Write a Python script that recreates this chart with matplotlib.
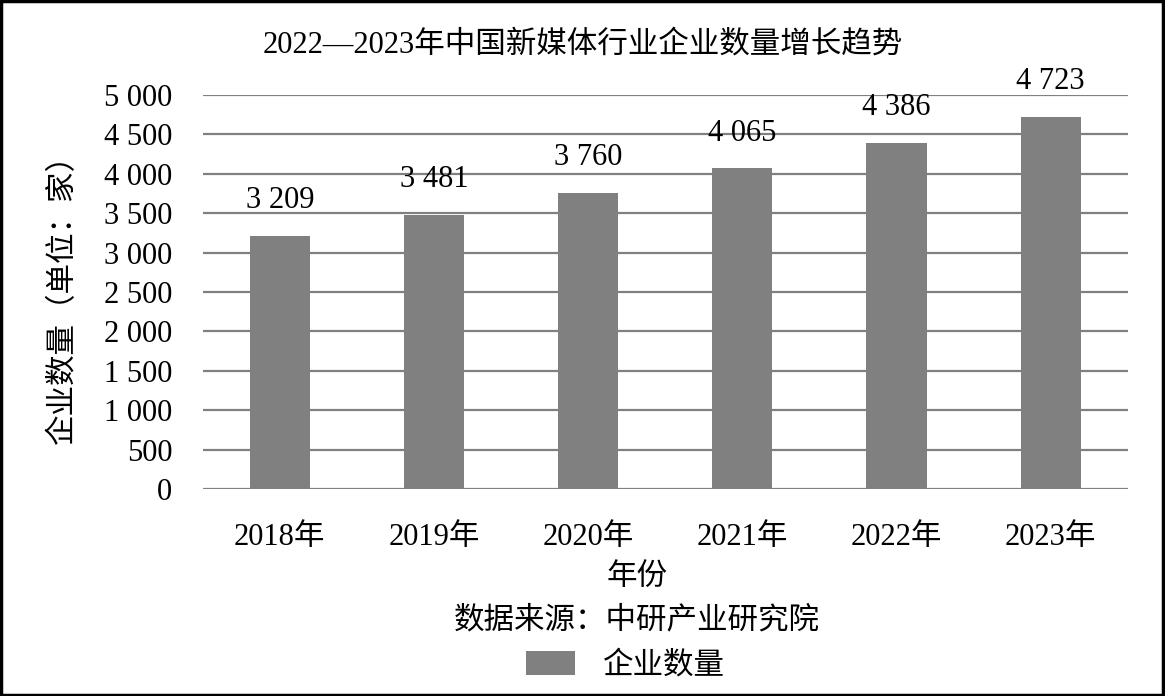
import matplotlib
matplotlib.use('Agg')
import matplotlib.pyplot as plt
from matplotlib.patches import Rectangle
from matplotlib.ticker import FuncFormatter

# 数据
years = ['2018年', '2019年', '2020年', '2021年', '2022年', '2023年']
counts = [3209, 3481, 3760, 4065, 4386, 4723]
yticks = [0, 500, 1000, 1500, 2000, 2500, 3000, 3500, 4000, 4500, 5000]

plt.rcParams['font.family'] = ['Liberation Serif', 'Noto Sans CJK SC']
plt.rcParams['font.size'] = 22


def fmt(v, pos=None):
    return '{:,}'.format(int(v)).replace(',', ' ')


fig = plt.figure(figsize=(11.65, 6.96), dpi=100)
ax = fig.add_axes([0.174, 0.297, 0.794, 0.567])

x = range(len(years))
bars = ax.bar(x, counts, width=0.39, color='#808080', label='企业数量', zorder=3)

for xi, v in zip(x, counts):
    ax.annotate(fmt(v), (xi, v), xytext=(0, 15), textcoords='offset points',
                ha='center', va='bottom', fontsize=22)

ax.set_ylim(0, 5000)
ax.set_xlim(-0.5, len(years) - 0.5)
ax.set_yticks(yticks)
ax.yaxis.set_major_formatter(FuncFormatter(fmt))
ax.set_xticks(list(x))
ax.set_xticklabels(years)
ax.tick_params(axis='both', length=0, labelsize=22)
ax.tick_params(axis='x', pad=24)
ax.tick_params(axis='y', pad=22)
ax.grid(axis='y', color='#808080', linewidth=1.6, zorder=0)
for s in ax.spines.values():
    s.set_visible(False)

ax.set_ylabel('企业数量（单位：家）', fontsize=22)
ax.yaxis.set_label_coords(-0.135, 0.5)

fig.text(0.5, 0.935, '2022—2023年中国新媒体行业企业数量增长趋势', ha='center', va='center', fontsize=22)
fig.text(0.547, 0.170, '年份', ha='center', va='center', fontsize=22)
fig.text(0.547, 0.108, '数据来源：中研产业研究院', ha='center', va='center', fontsize=22)

fig.legend(handles=[bars], labels=['企业数量'], loc='center', bbox_to_anchor=(0.537, 0.043),
           frameon=False, fontsize=22, handlelength=1.6, handleheight=0.8, handletextpad=0.9)

fig.patches.append(Rectangle((0.001, 0.002), 0.997, 0.996, transform=fig.transFigure,
                             fill=False, edgecolor='black', linewidth=2.5))

fig.savefig('out.png', dpi=100)
